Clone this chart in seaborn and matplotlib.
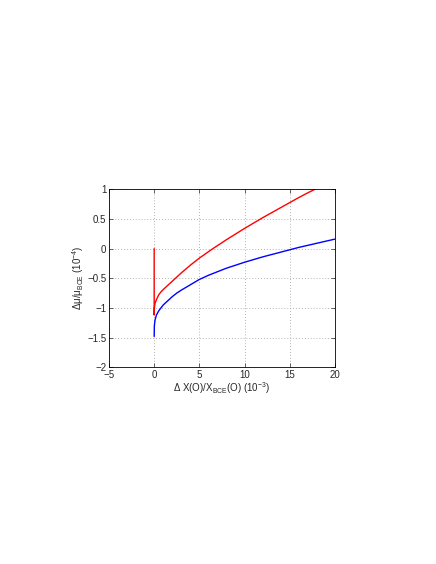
import numpy as np
import pandas as pd
import seaborn as sns
import matplotlib
matplotlib.use("Agg")
import matplotlib.pyplot as plt

# values
red_x = [0, 0, 0.02, 0.05, 0.1, 0.25, 0.5, 0.75, 1, 1.5, 2, 2.5, 3, 3.5, 4, 4.5, 5, 5.75,
         6.5, 7, 8, 9, 10, 11, 12, 13, 14, 15, 16, 17, 17.8]
red_y = [0, -1.12, -1.0, -0.97, -0.92, -0.86, -0.78, -0.73, -0.69, -0.62, -0.55, -0.48,
         -0.41, -0.345, -0.28, -0.22, -0.16, -0.08, 0.0, 0.05, 0.15, 0.245, 0.34, 0.43,
         0.52, 0.605, 0.69, 0.775, 0.86, 0.94, 1.0]

blue_x = [0, 0.02, 0.1, 0.25, 0.5, 0.75, 1, 1.5, 2, 2.5, 3, 3.5, 4, 4.5, 5, 5.5, 6, 7,
          8, 9, 10, 11, 12, 13, 14, 15, 16, 17, 18, 19, 20]
blue_y = [-1.48, -1.3, -1.2, -1.12, -1.05, -1.0, -0.95, -0.88, -0.81, -0.75, -0.70,
          -0.655, -0.61, -0.565, -0.52, -0.485, -0.45, -0.39, -0.33, -0.28, -0.23, -0.185,
          -0.14, -0.10, -0.06, -0.02, 0.02, 0.055, 0.09, 0.125, 0.16]

xticks = [-5, 0, 5, 10, 15, 20]
yticks = [-2, -1.5, -1, -0.5, 0, 0.5, 1]

sns.set_style("white")
plt.rcParams['font.family'] = ['Liberation Sans', 'DejaVu Sans']
plt.rcParams['mathtext.fontset'] = 'custom'
plt.rcParams['mathtext.rm'] = 'Liberation Sans'
plt.rcParams['mathtext.it'] = 'Liberation Sans'

df_red = pd.DataFrame({"x": red_x, "y": red_y})
df_blue = pd.DataFrame({"x": blue_x, "y": blue_y})

fig = plt.figure(figsize=(4.36, 5.64), dpi=100)
ax = fig.add_axes([0.25, 0.3488, 0.518, 0.3156])

sns.lineplot(data=df_blue, x="x", y="y", sort=False, estimator=None, color="blue", lw=1, ax=ax)
sns.lineplot(data=df_red, x="x", y="y", sort=False, estimator=None, color="red", lw=1, ax=ax)

ax.set_xlim(-5, 20)
ax.set_ylim(-2, 1)
ax.set_xticks(xticks)
ax.set_yticks(yticks)
ax.set_xticklabels([str(t).replace('-', '\u2212') for t in xticks])
ax.set_yticklabels([('%g' % t).replace('-', '\u2212') for t in yticks])
ax.grid(True, ls=(0, (1, 2.5)), color='0.6', lw=0.6)
ax.tick_params(direction='in', length=3, width=0.5, labelsize=7, top=True, right=True,
               bottom=True, left=True, pad=2)

#format figure look
for pos in ['left', 'right', 'top', 'bottom']:
    ax.spines[pos].set_visible(True)
    ax.spines[pos].set_linewidth(0.6)
    ax.spines[pos].set_color('k')

ax.set_xlabel(r"$\Delta$ X(O)/X$_{\rm BCE}$(O) (10$^{-3}$)", fontsize=7, labelpad=0)
ax.set_ylabel(r"$\Delta\mu/\mu_{\rm BCE}$ (10$^{-4}$)", fontsize=7, labelpad=1)

fig.savefig("out.png", dpi=100)
